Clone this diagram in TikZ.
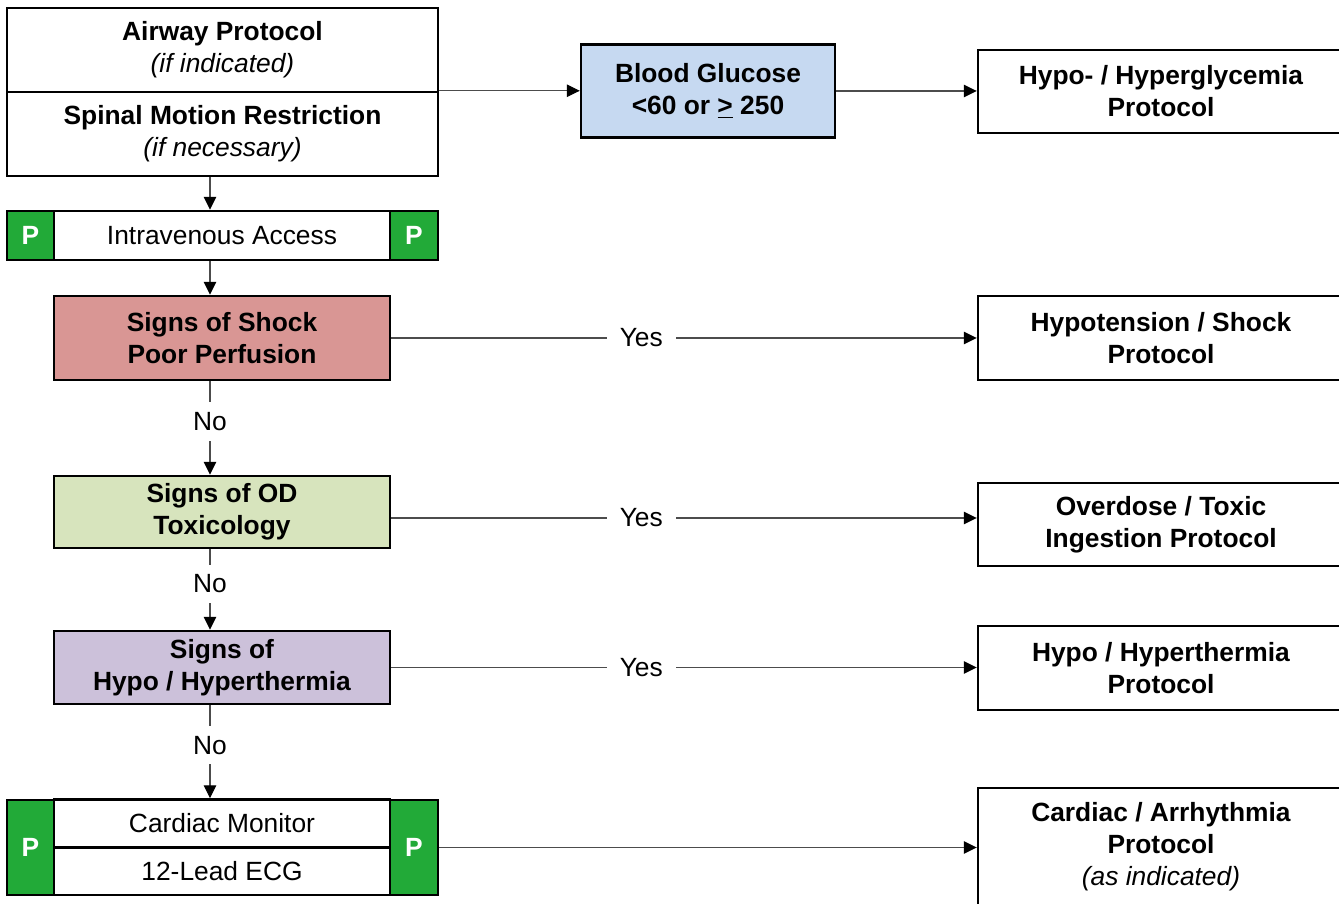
\documentclass[tikz,border=0pt]{standalone}
\usepackage{fontspec}
\setmainfont{Liberation Sans}
\usetikzlibrary{arrows.meta}
\definecolor{pgreen}{RGB}{34,170,56}
\definecolor{shockred}{HTML}{D99694}
\definecolor{odgreen}{HTML}{D7E4BD}
\definecolor{thermlilac}{HTML}{CCC1DA}
\definecolor{bgblue}{HTML}{C6D9F1}

\begin{document}
\begin{tikzpicture}[stepbox/.style={draw, line width=1.4pt, align=center, inner sep=0pt,
             minimum width=6.72cm, font=\fontsize{15}{18.2}\selectfont},
             topbox/.style={stepbox, minimum width=8.62cm, minimum height=1.68cm},
             protobox/.style={stepbox, minimum width=7.32cm, minimum height=1.68cm},
             pbox/.style={draw, line width=1.4pt, fill=pgreen, text=white, inner sep=0pt,
                minimum width=0.95cm, font=\fontsize{15}{18.2}\selectfont\bfseries},
             connections/.style={-{Triangle[length=0.26cm,width=0.25cm,color=black]},draw=black!70,line width=0.6pt},
             answer/.style={fill=white, inner xsep=0.26cm, inner ysep=0.2cm,
                font=\fontsize{15}{18.2}\selectfont},
          ]
          \useasboundingbox (0,0) rectangle (26.78,-18.08);
          \clip (0,0) rectangle (26.78,-18.08);
          \coordinate (col) at (4.20,0);

          % left column
          \node[draw] at (4.45,-1.00) (airway) [topbox] {\textbf{Airway Protocol}\\\textit{(if indicated)}};
          \node[draw] at (4.45,-2.68) (spinal) [topbox] {\textbf{Spinal Motion Restriction}\\\textit{(if necessary)}};
          \node[draw] at (4.44,-4.71) (iv) [stepbox, minimum height=0.98cm] {Intravenous Access};
          \node[draw] at (0.61,-4.71) (ivl) [pbox, minimum height=0.98cm] {P};
          \node[draw] at (8.28,-4.71) (ivr) [pbox, minimum height=0.98cm] {P};
          \node[draw] at (4.44,-6.76) (shock) [stepbox, fill=shockred, minimum height=1.68cm] {\textbf{Signs of Shock}\\\textbf{Poor Perfusion}};
          \node[draw] at (4.44,-10.24) (od) [stepbox, fill=odgreen, minimum height=1.44cm] {\textbf{Signs of OD}\\\textbf{Toxicology}};
          \node[draw] at (4.44,-13.35) (therm) [stepbox, fill=thermlilac, minimum height=1.46cm] {\textbf{Signs of}\\\textbf{Hypo / Hyperthermia}};
          \node[draw] at (4.44,-16.47) (monitor) [stepbox, minimum height=0.96cm] {Cardiac Monitor};
          \node[draw] at (4.44,-17.43) (ecg) [stepbox, minimum height=0.94cm] {12-Lead ECG};
          \node[draw] at (0.61,-16.95) (cml) [pbox, minimum height=1.90cm] {P};
          \node[draw] at (8.28,-16.95) (cmr) [pbox, minimum height=1.90cm] {P};

          % right side
          \node[draw] at (14.16,-1.82) (bg) [stepbox, fill=bgblue, minimum width=5.08cm, minimum height=1.86cm] {\textbf{Blood Glucose}\\\textbf{<60 or \underline{>} 250}};
          \node[draw] at (23.22,-1.83) (glyc) [protobox, minimum height=1.66cm] {\textbf{Hypo- / Hyperglycemia}\\\textbf{Protocol}};
          \node[draw] at (23.22,-6.76) (hypot) [protobox] {\textbf{Hypotension / Shock}\\\textbf{Protocol}};
          \node[draw] at (23.22,-10.49) (tox) [protobox, minimum height=1.66cm] {\textbf{Overdose / Toxic}\\\textbf{Ingestion Protocol}};
          \node[draw] at (23.22,-13.36) (thermp) [protobox] {\textbf{Hypo / Hyperthermia}\\\textbf{Protocol}};
          \node[draw] at (23.22,-16.94) (cardp) [protobox, minimum height=2.36cm] {\textbf{Cardiac / Arrhythmia}\\\textbf{Protocol}\\\textit{(as indicated)}};

          \draw[connections] (spinal.north east) -- (spinal.north east -| bg.west);
          \draw[connections] (bg.east) -- (bg.east -| glyc.west);
          \draw[connections] (spinal.south -| col) -- (iv.north -| col);
          \draw[connections] (iv.south -| col) -- (shock.north -| col);
          \draw[connections] (shock.south -| col) -- node[answer, pos=0.43] {No} (od.north -| col);
          \draw[connections] (od.south -| col) -- node[answer, pos=0.43] {No} (therm.north -| col);
          \draw[connections] (therm.south -| col) -- node[answer, pos=0.43] {No} (monitor.north -| col);
          \draw[connections] (shock.east) -- node[answer, pos=0.427] {Yes} (shock.east -| hypot.west);
          \draw[connections] ([yshift=-0.12cm]od.east) -- node[answer, pos=0.427] {Yes} ([yshift=-0.12cm]od.east -| tox.west);
          \draw[connections] (therm.east) -- node[answer, pos=0.427] {Yes} (therm.east -| thermp.west);
          \draw[connections] (cmr.east) -- (cmr.east -| cardp.west);
       \end{tikzpicture}
\end{document}
